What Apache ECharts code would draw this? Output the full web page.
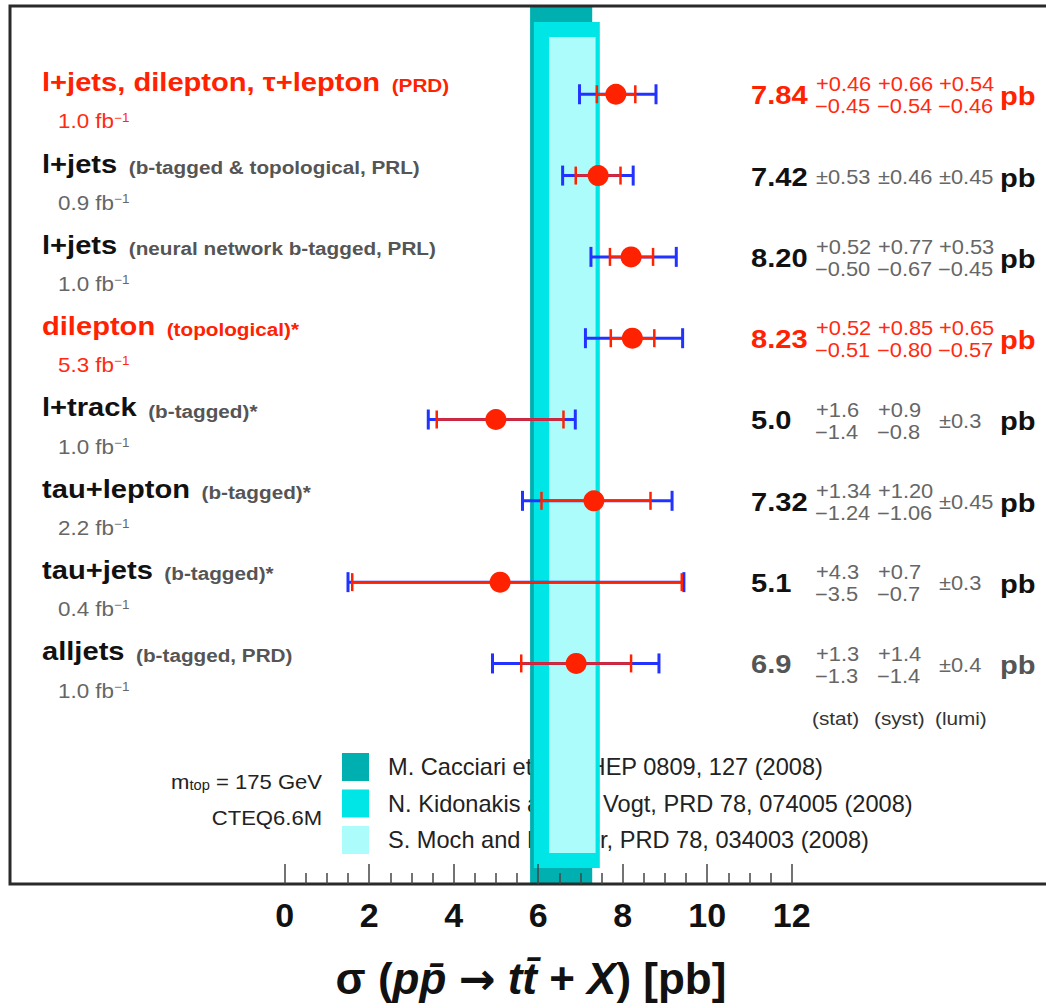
<!DOCTYPE html>
<html>
<head>
<meta charset="utf-8">
<script src="https://cdn.jsdelivr.net/npm/echarts@6/dist/echarts.min.js"></script>
<style>
html, body { margin: 0; padding: 0; background: #ffffff; }
#chart { width: 1046px; height: 1008px; }
</style>
</head>
<body>
<div id="chart"></div>
<script>
// ---------------- data ----------------
const measurements = ['l+jets, dilepton, \u03c4+lepton', 'l+jets', 'l+jets', 'dilepton', 'l+track', 'tau+lepton', 'tau+jets', 'alljets'];
const notes = ['(PRD)', '(b-tagged & topological, PRL)', '(neural network b-tagged, PRL)', '(topological)*', '(b-tagged)*', '(b-tagged)*', '(b-tagged)*', '(b-tagged, PRD)'];
const luminosities = ['1.0', '0.9', '1.0', '5.3', '1.0', '2.2', '0.4', '1.0'];
const highlighted = [true, false, false, true, false, false, false, false];
const dimmed = [false, false, false, false, false, false, false, true];

const centralValues = [7.84, 7.42, 8.20, 8.23, 5.0, 7.32, 5.1, 6.9];
const decimals = [2, 2, 2, 2, 1, 2, 1, 1];
const statPlus  = [0.46, 0.53, 0.52, 0.52, 1.6, 1.34, 4.3, 1.3];
const statMinus = [0.45, 0.53, 0.50, 0.51, 1.4, 1.24, 3.5, 1.3];
const systPlus  = [0.66, 0.46, 0.77, 0.85, 0.9, 1.20, 0.7, 1.4];
const systMinus = [0.54, 0.46, 0.67, 0.80, 0.8, 1.06, 0.7, 1.4];
const lumiPlus  = [0.54, 0.45, 0.53, 0.65, 0.3, 0.45, 0.3, 0.4];
const lumiMinus = [0.46, 0.45, 0.45, 0.57, 0.3, 0.45, 0.3, 0.4];
const statShownAsPM = [false, true, false, false, false, false, false, false];
const systShownAsPM = [false, true, false, false, false, false, false, false];
const lumiShownAsPM = [false, true, false, false, true, true, true, true];

// error bar end points
const statBarLow   = [7.39, 6.89, 7.70, 7.72, 3.60, 6.08, 1.60, 5.60];
const statBarHigh  = [8.30, 7.95, 8.72, 8.75, 6.60, 8.66, 9.40, 8.20];
const totalBarLow  = [6.98, 6.58, 7.25, 7.12, 3.40, 5.63, 1.50, 4.92];
const totalBarHigh = [8.79, 8.25, 9.27, 9.42, 6.88, 9.17, 9.45, 8.86];

const theoryNames = ['M. Cacciari et al., JHEP 0809, 127 (2008)', 'N. Kidonakis and R. Vogt, PRD 78, 074005 (2008)', 'S. Moch and P. Uwer, PRD 78, 034003 (2008)'];
const theoryLow  = [5.81, 5.90, 6.26];
const theoryHigh = [7.28, 7.46, 7.36];

const errorColumnNames = ['(stat)', '(syst)', '(lumi)'];
const xTickMin = 0, xTickMax = 12, xTickStep = 2;

// ---------------- layout & style ----------------
const FONT = "'Liberation Sans', Arial, Helvetica, sans-serif";
const STRETCH = 1.12;
const PX_PER_UNIT = 42.25;
const X_MIN = -6.5;
const BOX_LEFT = 10, BOX_TOP = 6, BOX_BOTTOM = 884, GRID_W = 1060;
const X_MAX = X_MIN + GRID_W / PX_PER_UNIT;
const ZERO_PX = BOX_LEFT - X_MIN * PX_PER_UNIT;
const ROWS_TOP = 53.6, ROWS_H = 650.5;
const bandColors = ['#00b0b0', '#00e6e6', '#adfcfc'];
const bandInsets = [0, 16, 31];
const RED = '#ff2200', RED_TXT = '#ff2a10', BLUE = '#2233ff';
const VALUE_X = 751, PB_X = 1000, ERR_X = [816, 878, 939];
const MINUS = '\u2212';

const chart = echarts.init(document.getElementById('chart'), null, { renderer: 'svg' });

function txt(x, y, text, size, weight, color, align) {
  return {
    type: 'text', x: x, y: y, scaleX: STRETCH,
    style: {
      text: text, fontSize: size, fontWeight: weight, fontFamily: FONT, fill: color,
      textAlign: align || 'left', textVerticalAlign: 'middle'
    }
  };
}

function renderRowText(params, api) {
  const i = params.dataIndex;
  const yc = api.coord([0, i])[1];
  const red = highlighted[i];
  const titleColor = red ? RED : '#111111';
  const noteColor = red ? RED : '#555555';
  const lumiColor = red ? RED_TXT : '#666666';
  const valColor = red ? RED : (dimmed[i] ? '#555555' : '#111111');
  const errColor = red ? RED_TXT : '#666666';
  const d = decimals[i];
  const kids = [];
  // left label
  kids.push({
    type: 'text', x: 42, y: yc - 12, scaleX: STRETCH,
    style: {
      text: '{t|' + measurements[i] + '}{p|  ' + notes[i] + '}',
      textAlign: 'left', textVerticalAlign: 'middle',
      rich: {
        t: { fontSize: 26, fontWeight: 'bold', fontFamily: FONT, fill: titleColor, verticalAlign: 'bottom' },
        p: { fontSize: 18.5, fontWeight: 'bold', fontFamily: FONT, fill: noteColor, verticalAlign: 'bottom' }
      }
    }
  });
  kids.push({
    type: 'text', x: 58, y: yc + 27, scaleX: STRETCH,
    style: {
      text: '{a|' + luminosities[i] + ' fb}{s|' + MINUS + '1}',
      textAlign: 'left', textVerticalAlign: 'middle',
      rich: {
        a: { fontSize: 20, lineHeight: 20, fontFamily: FONT, fill: lumiColor },
        s: { fontSize: 12, lineHeight: 6, verticalAlign: 'top', fontFamily: FONT, fill: lumiColor }
      }
    }
  });
  // right values
  const c = yc + 1;
  kids.push(txt(VALUE_X, c, centralValues[i].toFixed(d), 26, 'bold', valColor));
  const cols = [
    [statPlus[i], statMinus[i], statShownAsPM[i]],
    [systPlus[i], systMinus[i], systShownAsPM[i]],
    [lumiPlus[i], lumiMinus[i], lumiShownAsPM[i]]
  ];
  cols.forEach(function (col, k) {
    if (col[2]) {
      kids.push(txt(ERR_X[k], c, '\u00b1' + col[0].toFixed(d), 19.5, 'normal', errColor));
    } else {
      kids.push(txt(ERR_X[k], c - 11, '+' + col[0].toFixed(d), 19.5, 'normal', errColor));
      kids.push(txt(ERR_X[k] - 1, c + 11, MINUS + col[1].toFixed(d), 19.5, 'normal', errColor));
    }
  });
  kids.push(txt(PB_X, c + 1, 'pb', 26, 'bold', valColor));
  return { type: 'group', children: kids };
}

function renderBars(params, api) {
  const row = api.value(0);
  const sLo = api.coord([api.value(1), row]);
  const sHi = api.coord([api.value(2), row]);
  const tLo = api.coord([api.value(3), row]);
  const tHi = api.coord([api.value(4), row]);
  const y = sLo[1];
  const blue = { stroke: BLUE, lineWidth: 3 };
  const red = { stroke: RED, lineWidth: 2.5 };
  return {
    type: 'group',
    children: [
      { type: 'line', shape: { x1: tLo[0], y1: y, x2: tHi[0], y2: y }, style: blue },
      { type: 'line', shape: { x1: tLo[0], y1: y - 10, x2: tLo[0], y2: y + 10 }, style: blue },
      { type: 'line', shape: { x1: tHi[0], y1: y - 10, x2: tHi[0], y2: y + 10 }, style: blue },
      { type: 'line', shape: { x1: sLo[0], y1: y, x2: sHi[0], y2: y }, style: red },
      { type: 'line', shape: { x1: sLo[0], y1: y - 9, x2: sLo[0], y2: y + 9 }, style: red },
      { type: 'line', shape: { x1: sHi[0], y1: y - 9, x2: sHi[0], y2: y + 9 }, style: red }
    ]
  };
}

const bandSeries = theoryNames.map(function (name, k) {
  return {
    type: 'custom', name: name, xAxisIndex: 0, yAxisIndex: 0, z: 2, silent: true,
    itemStyle: { color: bandColors[k] },
    data: [[theoryLow[k], theoryHigh[k]]],
    encode: { x: [0, 1] },
    renderItem: function (params, api) {
      const cs = params.coordSys;
      const x0 = api.coord([api.value(0), 0.5])[0];
      const x1 = api.coord([api.value(1), 0.5])[0];
      const inset = bandInsets[k];
      return {
        type: 'rect',
        shape: { x: x0, y: cs.y + inset, width: x1 - x0, height: cs.height - 2 * inset },
        style: { fill: bandColors[k] }
      };
    }
  };
});

const rowLabels = measurements.map(function (m, i) { return m + ' ' + notes[i]; });

const option = {
  animation: false,
  backgroundColor: '#ffffff',
  grid: [
    { left: BOX_LEFT, top: BOX_TOP, width: GRID_W, height: BOX_BOTTOM - BOX_TOP, show: true, borderColor: '#2a2a2a', borderWidth: 3, backgroundColor: 'transparent', z: 10, outerBoundsMode: 'none', containLabel: false },
    { left: BOX_LEFT, top: ROWS_TOP, width: GRID_W, height: ROWS_H, outerBoundsMode: 'none', containLabel: false },
    { left: ZERO_PX, top: BOX_BOTTOM - 30, width: (xTickMax - xTickMin) * PX_PER_UNIT, height: 30, outerBoundsMode: 'none', containLabel: false }
  ],
  xAxis: [
    { gridIndex: 0, type: 'value', min: X_MIN, max: X_MAX, show: false },
    { gridIndex: 1, type: 'value', min: X_MIN, max: X_MAX, show: false },
    {
      gridIndex: 2, type: 'value', min: xTickMin, max: xTickMax, interval: xTickStep, position: 'bottom', z: 10,
      axisLine: { show: false },
      axisTick: { show: true, inside: true, length: 20, lineStyle: { color: '#444444', width: 1.5 } },
      minorTick: { show: true, splitNumber: 4, length: 11, lineStyle: { color: '#444444', width: 1.5 } },
      splitLine: { show: false }, minorSplitLine: { show: false },
      axisLabel: { fontSize: 34, fontWeight: 'bold', color: '#111111', fontFamily: FONT, margin: 14 }
    }
  ],
  yAxis: [
    { gridIndex: 0, type: 'value', min: 0, max: 1, show: false },
    { gridIndex: 1, type: 'category', data: rowLabels, inverse: true, show: false },
    { gridIndex: 2, type: 'value', show: false }
  ],
  legend: {
    data: theoryNames, orient: 'vertical', left: 342, top: 753, z: 1, padding: 0,
    itemWidth: 27, itemHeight: 28, itemGap: 8.5, icon: 'rect', selectedMode: false,
    formatter: function (n) { return '{t|' + n + '}'; },
    textStyle: { rich: { t: { fontSize: 23.6, fontFamily: FONT, color: '#222222', padding: [0, 0, 0, 14] } } }
  },
  graphic: [
    {
      type: 'text', x: 531, y: 978, z: 20,
      style: {
        text: '{n|\u03c3 (}{i|pp\u0304}{n| }{a|\u2192}{n| }{i|tt\u0304}{n| + }{i|X}{n|) [pb]}',
        textAlign: 'center', textVerticalAlign: 'middle',
        rich: {
          n: { fontSize: 44, fontWeight: 'bold', fontFamily: FONT, fill: '#111111' },
          a: { fontSize: 44, fontWeight: 'bold', fontFamily: "'DejaVu Sans', sans-serif", fill: '#111111' },
          i: { fontSize: 44, fontWeight: 'bold', fontStyle: 'italic', fontFamily: FONT, fill: '#111111' }
        }
      }
    },
    {
      type: 'text', x: 322, y: 782, scaleX: 1.05, z: 20,
      style: {
        text: '{a|m}{b|top}{a| = 175 GeV}', textAlign: 'right', textVerticalAlign: 'middle',
        rich: {
          a: { fontSize: 21, lineHeight: 21, fontFamily: FONT, fill: '#222222' },
          b: { fontSize: 14, lineHeight: 6, verticalAlign: 'bottom', fontFamily: FONT, fill: '#222222' }
        }
      }
    },
    {
      type: 'text', x: 322, y: 818, scaleX: 1.05, z: 20,
      style: { text: 'CTEQ6.6M', fontSize: 21, fontFamily: FONT, fill: '#222222', textAlign: 'right', textVerticalAlign: 'middle' }
    }
  ].concat(errorColumnNames.map(function (n, k) {
    return {
      type: 'text', x: ERR_X[k] - 4, y: 718, scaleX: STRETCH, z: 20,
      style: { text: n, fontSize: 18.5, fontFamily: FONT, fill: '#333333', textAlign: 'left', textVerticalAlign: 'middle' }
    };
  })),
  series: bandSeries.concat([
    {
      type: 'custom', name: 'errors', xAxisIndex: 1, yAxisIndex: 1, z: 3, silent: true,
      data: centralValues.map(function (v, i) { return [i, statBarLow[i], statBarHigh[i], totalBarLow[i], totalBarHigh[i]]; }),
      encode: { y: 0, x: [1, 2, 3, 4] },
      renderItem: renderBars
    },
    {
      type: 'scatter', name: 'measurements', xAxisIndex: 1, yAxisIndex: 1, z: 4, silent: true,
      symbol: 'circle', symbolSize: 21,
      itemStyle: { color: RED, opacity: 1 },
      data: centralValues.map(function (v, i) { return [v, i]; })
    },
    {
      type: 'custom', name: 'annotations', xAxisIndex: 1, yAxisIndex: 1, z: 5, silent: true,
      data: centralValues.map(function (v, i) { return [v, i]; }),
      encode: { x: 0, y: 1 },
      renderItem: renderRowText
    }
  ])
};

chart.setOption(option);
</script>
</body>
</html>
